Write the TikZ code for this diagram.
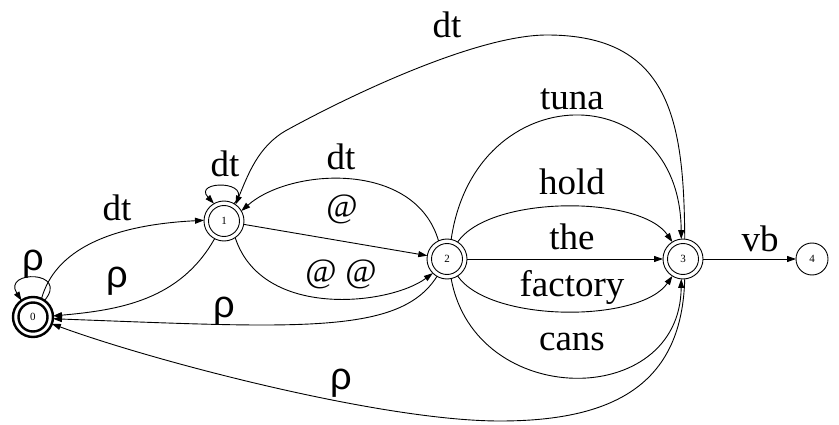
\documentclass[tikz,border=0pt]{standalone}
\usepackage{fontspec}
\setmainfont{Liberation Serif}
\newfontfamily\rhofont{Liberation Sans}
\usetikzlibrary{arrows.meta}
\begin{document}
\begin{tikzpicture}[x=1pt,y=-1pt,
  edge/.style={draw, line width=0.9pt, -{Triangle[length=9pt,width=6pt]}},
  st/.style={circle, draw, line width=0.9pt, minimum size=40pt, inner sep=0pt, outer sep=0pt, font=\fontsize{11}{11}\selectfont},
  acc/.style={st, path picture={\draw[line width=0.9pt] (path picture bounding box.center) circle[radius=15.5pt];}},
  acczero/.style={st, line width=2.4pt, path picture={\draw[line width=2.4pt] (path picture bounding box.center) circle[radius=14.5pt];}},
  lbl/.style={font=\fontsize{37}{37}\selectfont, inner sep=0pt},
  atlbl/.style={font=\fontsize{34}{34}\selectfont, inner sep=0pt},
  rlbl/.style={font=\rhofont\fontsize{38}{38}\selectfont, inner sep=0pt}]
\useasboundingbox (0,0) rectangle (839,425);

\node[acczero] (n0) at (33,317) {0};
\node[acc] (n1) at (224,221) {1};
\node[acc] (n2) at (447,259) {2};
\node[acc] (n3) at (683,259) {3};
\node[st, minimum size=32pt] (n4) at (812,259) {4};

\draw[edge] (n0.55) .. controls (70,270) and (2,270) .. (n0.125);
\draw[edge] (n0.65) .. controls (55,250) and (110,225) .. (n1.178);
\draw[edge] (n1.60) .. controls (256,180) and (192,180) .. (n1.120);
\draw[edge] (n1.-118) .. controls (180,300) and (120,310) .. (n0.3);
\draw[edge] (n1) -- (n2);
\draw[edge] (n1.-56) .. controls (262,320) and (390,305) .. (n2.-135);
\draw[edge] (n2.115) .. controls (415,160) and (290,168) .. (n1.30);
\draw[edge] (n2.-120) .. controls (400,335) and (300,328) .. (n0.-5);
\draw[edge] (n3.85) .. controls (684,120) and (670,35) .. (547,35) .. controls (480,35) and (360,90) .. (287,130) .. controls (258,146) and (248,175) .. (n1.55);
\draw[edge] (n2.78) .. controls (475,75) and (680,75) .. (n3.95);
\draw[edge] (n2.58) .. controls (490,195) and (640,195) .. (n3.122);
\draw[edge] (n2) -- (n3);
\draw[edge] (n2.-58) .. controls (490,323) and (640,323) .. (n3.-122);
\draw[edge] (n2.-78) .. controls (475,410) and (680,410) .. (n3.-95);
\draw[edge] (n3.-85) .. controls (682,380) and (620,421) .. (500,421) .. controls (380,421) and (150,360) .. (n0.-20);
\draw[edge] (n3) -- (n4);

\node[rlbl] (r0) at (33,264) {ρ};
\node[lbl] (d1) at (225,164) {dt};
\node[lbl] (d01) at (117,208) {dt};
\node[rlbl] (r10) at (117,281) {ρ};
\node[lbl] (d21) at (341,157) {dt};
\node[atlbl] (at1) at (342,209) {@};
\node[atlbl] (at2) at (341,274) {@ @};
\node[rlbl] (r20) at (224,311) {ρ};
\node[rlbl] (r30) at (341,383) {ρ};
\node[lbl] (d31) at (447,25) {dt};
\node[lbl] (tuna) at (572,99) {tuna};
\node[lbl] (hold) at (572,182) {hold};
\node[lbl] (the) at (572,237) {the};
\node[lbl] (fac) at (572,287) {factory};
\node[lbl] (cans) at (572,342) {cans};
\node[lbl] (vb) at (760,239) {vb};
\end{tikzpicture}
\end{document}
